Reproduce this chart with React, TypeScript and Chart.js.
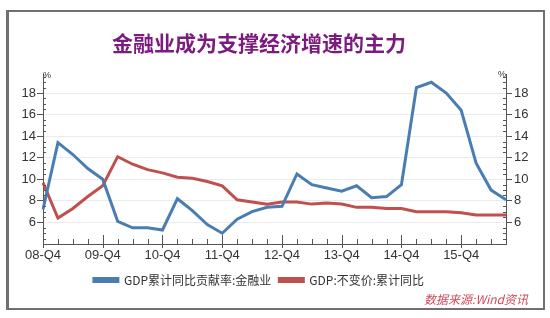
import React, { useEffect, useRef } from "react";
import { Chart, registerables } from "chart.js";

Chart.register(...registerables);

const categories = [
  "08-Q4",
  "09-Q1", "09-Q2", "09-Q3", "09-Q4",
  "10-Q1", "10-Q2", "10-Q3", "10-Q4",
  "11-Q1", "11-Q2", "11-Q3", "11-Q4",
  "12-Q1", "12-Q2", "12-Q3", "12-Q4",
  "13-Q1", "13-Q2", "13-Q3", "13-Q4",
  "14-Q1", "14-Q2", "14-Q3", "14-Q4",
  "15-Q1", "15-Q2", "15-Q3", "15-Q4",
  "16-Q1", "16-Q2", "16-Q3",
];

const financeContribution = [
  7.2, 13.4, 12.3, 11.0, 10.0, 6.1, 5.5, 5.5, 5.3, 8.2, 7.1, 5.8, 5.0, 6.3, 7.0, 7.4,
  7.5, 10.5, 9.5, 9.2, 8.9, 9.4, 8.3, 8.4, 9.5, 18.5, 19.0, 18.0, 16.4, 11.5, 9.0, 8.1,
];

const gdpRealGrowth = [
  9.7, 6.4, 7.3, 8.4, 9.4, 12.1, 11.4, 10.9, 10.6, 10.2, 10.1, 9.8, 9.4, 8.1, 7.9, 7.7,
  7.9, 7.9, 7.7, 7.8, 7.7, 7.4, 7.4, 7.3, 7.3, 7.0, 7.0, 7.0, 6.9, 6.7, 6.7, 6.7,
];

const yTickValues = [6, 8, 10, 12, 14, 16, 18];
const yMin = 4;
const yMax = 19.75;

const titleText = "金融业成为支撑经济增速的主力";
const seriesNames = ["GDP累计同比贡献率:金融业", "GDP:不变价:累计同比"];
const sourceText = "数据来源:Wind资讯";
const unitLabel = "%";

const BLUE = "#4a7eb3";
const RED = "#c0504d";
const AXIS = "#555555";
const SHIFT = 16;

const decorPlugin = {
  id: "decor",
  afterLayout(chart: any) {
    const boxes = [chart.titleBlock, chart.legend];
    boxes.forEach((b: any) => {
      if (b) {
        b.left -= SHIFT;
        b.right -= SHIFT;
      }
    });
  },
  beforeDraw(chart: any) {
    const { ctx, width, height } = chart;
    ctx.save();
    ctx.fillStyle = "#ffffff";
    ctx.fillRect(0, 0, width, height);
    ctx.strokeStyle = "#707070";
    ctx.lineWidth = 2;
    ctx.strokeRect(8, 11, 536, 298);
    ctx.fillStyle = "#707070";
    ctx.fillRect(6, 10, 2, 300);
    ctx.restore();
  },
  afterDraw(chart: any) {
    const { ctx, chartArea, scales } = chart;
    const x = scales.x;
    const yl = scales.y;
    ctx.save();
    ctx.strokeStyle = AXIS;
    ctx.lineWidth = 1;
    for (let v = yMin; v <= yMax + 1e-6; v += 0.5) {
      if (yTickValues.includes(v)) continue;
      const py = Math.round(yl.getPixelForValue(v)) + 0.5;
      ctx.beginPath();
      ctx.moveTo(chartArea.left, py);
      ctx.lineTo(chartArea.left + 3, py);
      ctx.moveTo(chartArea.right, py);
      ctx.lineTo(chartArea.right - 3, py);
      ctx.stroke();
    }
    const bottom = chartArea.bottom;
    categories.forEach((c, i) => {
      const px = Math.round(x.getPixelForValue(i)) + 0.5;
      ctx.beginPath();
      if (c.endsWith("Q4")) {
        ctx.moveTo(px, bottom - 9);
        ctx.lineTo(px, bottom + 4);
      } else {
        ctx.moveTo(px, bottom - 5);
        ctx.lineTo(px, bottom);
      }
      ctx.stroke();
    });
    ctx.fillStyle = "#333";
    ctx.font = "9px 'Liberation Sans', Arial, sans-serif";
    ctx.textBaseline = "middle";
    ctx.textAlign = "center";
    ctx.fillText(unitLabel, chartArea.left + 4, chartArea.top + 1);
    ctx.fillText(unitLabel, chartArea.right - 4, chartArea.top);
    ctx.fillStyle = "#d04a5c";
    ctx.font = "italic 12px 'Noto Sans CJK SC', sans-serif";
    ctx.textAlign = "right";
    ctx.fillText(sourceText, 528, 299);
    ctx.restore();
  },
};

export default function App() {
  const ref = useRef<HTMLCanvasElement | null>(null);

  useEffect(() => {
    if (!ref.current) return;
    const fixTicks = (scale: any) => {
      scale.ticks = yTickValues.map((v) => ({ value: v }));
    };
    const chart = new Chart(ref.current, {
      type: "line",
      data: {
        labels: categories,
        datasets: [
          {
            label: seriesNames[0],
            data: financeContribution,
            borderColor: BLUE,
            backgroundColor: BLUE,
            borderWidth: 3,
            pointRadius: 0,
            tension: 0,
            fill: false,
            yAxisID: "y",
          },
          {
            label: seriesNames[1],
            data: gdpRealGrowth,
            borderColor: RED,
            backgroundColor: RED,
            borderWidth: 3,
            pointRadius: 0,
            tension: 0,
            fill: false,
            yAxisID: "y",
          },
        ],
      },
      options: {
        responsive: false,
        animation: false,
        devicePixelRatio: 1,
        layout: { padding: { top: 17, bottom: 22, left: 0, right: 0 } },
        plugins: {
          title: {
            display: true,
            text: titleText,
            color: "#7b1b7e",
            font: { family: "'Noto Sans CJK SC', sans-serif", size: 21, weight: "bold" },
            padding: { top: 13, bottom: 19 },
          },
          legend: {
            position: "bottom",
            labels: {
              boxWidth: 24,
              boxHeight: 3,
              color: "#333",
              padding: 8,
              font: { family: "'Noto Sans CJK SC', sans-serif", size: 12 },
            },
          },
          tooltip: { enabled: false },
        },
        scales: {
          x: {
            type: "category",
            offset: false,
            grid: { display: true, drawOnChartArea: false, drawTicks: false },
            border: { display: true, color: AXIS, width: 1 },
            ticks: {
              autoSkip: false,
              maxRotation: 0,
              padding: 4,
              color: "#333",
              font: { family: "'Liberation Sans', Arial, sans-serif", size: 13 },
              callback: (_v: any, i: number) => (categories[i].endsWith("Q4") ? categories[i] : ""),
            },
            afterFit: (s: any) => {
              s.height = 22;
            },
          },
          y: {
            position: "left",
            min: yMin,
            max: yMax,
            afterBuildTicks: fixTicks,
            grid: { color: "#ebebeb", tickColor: AXIS, tickLength: 6 },
            border: { display: true, color: AXIS, width: 1 },
            ticks: {
              padding: 1,
              color: "#333",
              font: { family: "'Liberation Sans', Arial, sans-serif", size: 13 },
            },
            afterFit: (s: any) => {
              s.width = 43;
            },
          },
          y1: {
            position: "right",
            min: yMin,
            max: yMax,
            afterBuildTicks: fixTicks,
            grid: { drawOnChartArea: false, tickColor: AXIS, tickLength: 6 },
            border: { display: true, color: AXIS, width: 1 },
            ticks: {
              padding: 2,
              color: "#333",
              font: { family: "'Liberation Sans', Arial, sans-serif", size: 13 },
            },
            afterFit: (s: any) => {
              s.width = 44;
            },
          },
        },
      },
      plugins: [decorPlugin],
    } as any);
    return () => chart.destroy();
  }, []);

  return (
    <div style={{ position: "fixed", left: 0, top: 0, width: 550, height: 318, background: "#fff" }}>
      <canvas ref={ref} width={550} height={318} style={{ display: "block" }} />
    </div>
  );
}
